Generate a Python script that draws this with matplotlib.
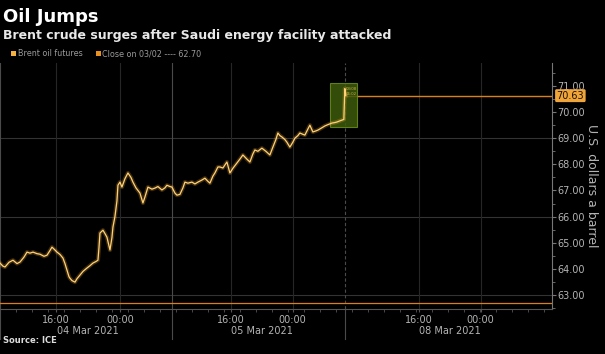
import matplotlib.pyplot as plt
from matplotlib.ticker import MultipleLocator
from matplotlib.patches import Rectangle
import matplotlib.transforms as mtransforms

# brent intraday, x = compressed chart hours (gaps between sessions removed)
px = [0, 3, 5, 9, 13, 17, 20, 24, 27, 30, 33, 37, 40, 44, 47, 50, 52, 55, 57, 60,
      63, 65, 67, 69, 70, 72, 75, 77, 80, 83, 87, 90, 93, 96, 98, 99, 100, 103, 105, 107,
      110, 112, 113, 115, 117, 118, 120, 122, 125, 128, 131, 133, 136, 140, 143, 145, 148, 152, 155, 158,
      162, 165, 167, 170, 172, 175, 177, 180, 183, 185, 188, 192, 195, 198, 202, 205, 208, 210, 213, 215,
      218, 220, 223, 227, 230, 233, 237, 240, 243, 247, 250, 253, 255, 258, 262, 266, 270, 273, 276, 278,
      280, 282, 285, 287, 290, 293, 295, 298, 300, 303, 305, 308, 310, 313, 316, 318, 322, 325, 328, 332,
      335, 337, 341, 344, 345, 346]
hours = [p / 8 for p in px]
price = [64.22, 64.10, 64.07, 64.25, 64.33, 64.20, 64.26, 64.45, 64.64, 64.60, 64.64, 64.58, 64.56, 64.48, 64.52, 64.70, 64.83, 64.72, 64.64, 64.55,
         64.41, 64.20, 63.95, 63.70, 63.64, 63.55, 63.49, 63.62, 63.76, 63.90, 64.03, 64.12, 64.22, 64.28, 64.33, 64.80, 65.37, 65.48, 65.35, 65.21,
         64.72, 65.20, 65.60, 66.00, 66.60, 67.20, 67.32, 67.13, 67.45, 67.67, 67.50, 67.32, 67.10, 66.90, 66.52, 66.75, 67.13, 67.05, 67.09, 67.15,
         67.02, 67.10, 67.20, 67.15, 67.13, 66.90, 66.82, 66.85, 67.10, 67.32, 67.28, 67.32, 67.25, 67.32, 67.40, 67.47, 67.35, 67.28, 67.55, 67.67,
         67.90, 67.90, 67.86, 68.09, 67.67, 67.85, 68.05, 68.20, 68.36, 68.20, 68.09, 68.40, 68.55, 68.50, 68.62, 68.50, 68.36, 68.66, 68.95, 69.20,
         69.10, 69.05, 68.95, 68.85, 68.66, 68.85, 69.00, 69.10, 69.20, 69.15, 69.12, 69.35, 69.50, 69.24, 69.28, 69.31, 69.40, 69.47, 69.52, 69.58,
         69.60, 69.62, 69.68, 69.72, 70.90, 70.63]
last_price = 70.63
close_0302 = 62.70

time_ticks = [7.0, 15.0, 28.9, 36.6, 52.4, 60.1]
time_labels = ['16:00', '00:00', '16:00', '00:00', '16:00', '00:00']
day_labels = ['04 Mar 2021', '05 Mar 2021', '08 Mar 2021']
day_breaks = [0, 21.5, 43.2]
y_ticks = [63, 64, 65, 66, 67, 68, 69, 70, 71]

bg = '#000000'
txt = '#b4b4b4'
line_col = '#f5a833'
dark_or = '#d9801c'

fig = plt.figure(figsize=(6.05, 3.54), dpi=100, facecolor=bg)
ax = fig.add_axes([0.0, 0.127, 0.912, 0.695], facecolor=bg)
ax.set_xlim(0, 69)
ax.set_ylim(62.46, 71.88)

# grid
for g in [63, 66, 69]:
    ax.axhline(g, color='#333333', lw=0.8, zorder=1)
for t in time_ticks:
    ax.axvline(t, color='#262626', lw=0.8, zorder=1)
trans = mtransforms.blended_transform_factory(ax.transData, ax.transAxes)
for i, d in enumerate(day_breaks):
    ax.axvline(d, color='#4a4a4a', lw=0.8, ls=(0, (3, 2)) if i == 2 else '-', zorder=1)
    ax.plot([d, d], [0, -0.12], transform=trans, color='#4a4a4a', lw=0.8, clip_on=False)

# close on 03/02 and last price lines
ax.axhline(close_0302, color=dark_or, lw=0.9, zorder=2)
ax.hlines(last_price, hours[-1], 69, color=dark_or, lw=1.0, zorder=2)

# highlight box around the jump
ax.axvspan(41.25, 44.6, ymin=(69.43 - 62.46) / 9.42, ymax=(71.11 - 62.46) / 9.42,
           facecolor='#3d5a0c', edgecolor='#6b8f1e', lw=0.8, alpha=0.85, zorder=2)
ax.text(43.3, 70.95, '03/08\n06:02', fontsize=2.8, color='#c8b040', va='top', zorder=4)

# price line with a soft glow
ax.plot(hours, price, color=line_col, lw=3.0, alpha=0.25, zorder=3)
ax.plot(hours, price, color='#ffd27a', lw=0.9, zorder=4)

# axes styling
for s in ['top', 'left']:
    ax.spines[s].set_visible(False)
ax.spines['right'].set_color('#777777')
ax.spines['bottom'].set_color('#555555')
ax.yaxis.tick_right()
ax.yaxis.set_label_position('right')
ax.set_yticks(y_ticks)
ax.set_yticklabels(['%.2f' % v for v in y_ticks])
ax.yaxis.set_minor_locator(MultipleLocator(0.5))
ax.tick_params(axis='y', which='major', colors='#777777', labelcolor=txt, labelsize=7, length=3, pad=1)
ax.tick_params(axis='y', which='minor', colors='#777777', length=2)
ax.set_xticks(time_ticks)
ax.set_xticklabels(time_labels)
ax.xaxis.set_minor_locator(MultipleLocator(2))
ax.tick_params(axis='x', which='major', colors='#555555', labelcolor=txt, labelsize=7, length=2, pad=2)
ax.tick_params(axis='x', which='minor', colors='#555555', length=2)
ax.set_ylabel('U.S. dollars a barrel', rotation=270, color=txt, fontsize=9, va='center')
ax.yaxis.set_label_coords(1.072, 0.5)

for i, lab in enumerate(day_labels):
    xc = (time_ticks[2 * i] + time_ticks[2 * i + 1]) / 2
    ax.text(xc, -0.068, lab, transform=trans, ha='center', va='top', fontsize=7, color=txt)

# last price tag
ax.text(69.6, last_price, '%.2f' % last_price, fontsize=7, color='#1a1000', va='center', ha='left',
        bbox=dict(boxstyle='round,pad=0.15', fc='#f0a53a', ec='none'), clip_on=False, zorder=5)

# titles, legend, source
fig.text(0.005, 0.952, 'Oil Jumps', fontsize=13, fontweight='bold', color='white', va='center')
fig.text(0.005, 0.9, 'Brent crude surges after Saudi energy facility attacked', fontsize=9,
         fontweight='bold', color='#e8e8e8', va='center')
fig.patches.append(Rectangle((0.019, 0.841), 0.008, 0.014, transform=fig.transFigure, fc='#f5b040'))
fig.text(0.029, 0.848, 'Brent oil futures', fontsize=5.8, color='#9a9a9a', va='center')
fig.patches.append(Rectangle((0.159, 0.841), 0.008, 0.014, transform=fig.transFigure, fc='#e89020'))
fig.text(0.169, 0.848, 'Close on 03/02 ---- 62.70', fontsize=5.8, color='#9a9a9a', va='center')
fig.text(0.005, 0.037, 'Source: ICE', fontsize=6, fontweight='bold', color='#dddddd', va='center')

fig.savefig('out.png', dpi=100, facecolor=bg)
